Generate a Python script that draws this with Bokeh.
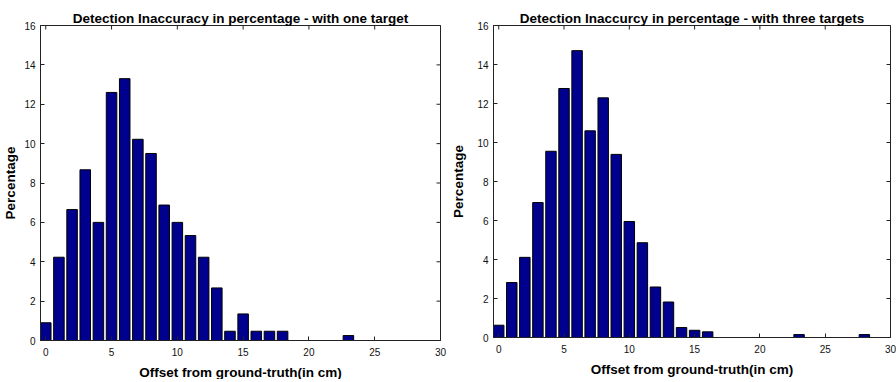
import math
from bokeh.plotting import figure
from bokeh.layouts import row
from bokeh.models import LinearAxis, FixedTicker, Range1d, ColumnDataSource
from bokeh.embed import file_html
from bokeh.resources import INLINE

# ---- data ----
title_one = "Detection Inaccuracy in percentage - with one target"
title_three = "Detection Inaccurcy in percentage - with three targets"
x_label = "Offset from ground-truth(in cm)"
y_label = "Percentage"

offset_one = list(range(0, 24))
pct_one = [0.9, 4.23, 6.65, 8.67, 6.0, 12.6, 13.3, 10.22, 9.5, 6.88,
           6.0, 5.33, 4.23, 2.67, 0.47, 1.35, 0.47, 0.47, 0.47, 0.0,
           0.0, 0.0, 0.0, 0.25]

offset_three = list(range(0, 29))
pct_three = [0.63, 2.82, 4.11, 6.92, 9.55, 12.77, 14.71, 10.6, 12.29, 9.39,
             5.95, 4.86, 2.59, 1.82, 0.51, 0.37, 0.29, 0.0, 0.0, 0.0,
             0.0, 0.0, 0.0, 0.15, 0.0, 0.0, 0.0, 0.0, 0.15]

x_ticks = [0, 5, 10, 15, 20, 25, 30]
y_ticks = [0, 2, 4, 6, 8, 10, 12, 14, 16]

FONT = "Liberation Sans"
BAR_COLOR = "#00008F"
AX_COLOR = "#222222"


def make(title, xs, ys, frame_w, frame_h, b_left, b_right, b_top, b_bottom,
         ylab_standoff):
    keep = [(x, y) for x, y in zip(xs, ys) if y > 0]
    src = ColumnDataSource(dict(x=[k[0] for k in keep], top=[k[1] for k in keep]))
    x0, x1 = -0.4, x_ticks[-1]
    y0, y1 = y_ticks[0], y_ticks[-1]
    p = figure(frame_width=frame_w, frame_height=frame_h,
               x_range=Range1d(x0, x1), y_range=Range1d(y0, y1),
               output_backend="svg", toolbar_location=None,
               min_border_left=b_left, min_border_right=b_right,
               min_border_top=b_top, min_border_bottom=b_bottom,
               x_axis_location=None, y_axis_location=None)
    p.vbar(x="x", top="top", bottom=0, width=0.8, source=src,
           fill_color=BAR_COLOR, line_color="black", line_width=1)
    p.xgrid.visible = False
    p.ygrid.visible = False
    p.outline_line_color = AX_COLOR
    p.outline_line_width = 1
    p.background_fill_color = "white"
    p.border_fill_color = "white"

    # inward tick marks on the top and right edges (box on)
    p.scatter(x=x_ticks, y=[y1] * len(x_ticks), marker="dash", size=8,
              angle=math.pi / 2, line_color=AX_COLOR, line_width=1)
    p.scatter(x=[x1] * len(y_ticks), y=y_ticks, marker="dash", size=8,
              angle=0, line_color=AX_COLOR, line_width=1)

    p.title.text = title
    p.title.text_font = FONT
    p.title.text_font_size = "13.5px"
    p.title.text_font_style = "bold"
    p.title.align = "center"
    p.title.text_color = "black"
    if "padding" in p.title.properties():
        p.title.padding = (0, 0, 5, 0)
        p.title.standoff = 0
    else:
        p.title.standoff = 10

    def style(ax, ticks):
        ax.ticker = FixedTicker(ticks=ticks)
        ax.major_tick_in = 4
        ax.major_tick_out = 0
        ax.minor_tick_line_color = None
        ax.axis_line_color = AX_COLOR
        ax.major_tick_line_color = AX_COLOR
        ax.major_label_text_font = FONT
        ax.major_label_text_color = "#111111"
        ax.major_label_text_font_size = "10px"
        ax.axis_label_text_font = FONT
        ax.axis_label_text_font_size = "13.5px"
        ax.axis_label_text_font_style = "bold"
        ax.axis_label_text_color = "black"

    xb = LinearAxis(axis_label=x_label)
    style(xb, x_ticks)
    xb.major_label_standoff = 7
    xb.axis_label_standoff = 6
    p.add_layout(xb, "below")

    yl = LinearAxis(axis_label=y_label)
    style(yl, y_ticks)
    yl.major_label_standoff = 5
    yl.axis_label_standoff = ylab_standoff
    p.add_layout(yl, "left")
    return p


p1 = make(title_one, offset_one, pct_one, 400, 315, 32, 8, 22, 34, 3)
p2 = make(title_three, offset_three, pct_three, 397, 312, 45, 6, 25, 34, 8)

layout = row(p1, p2)
open("out.html", "w").write(file_html(layout, INLINE))
